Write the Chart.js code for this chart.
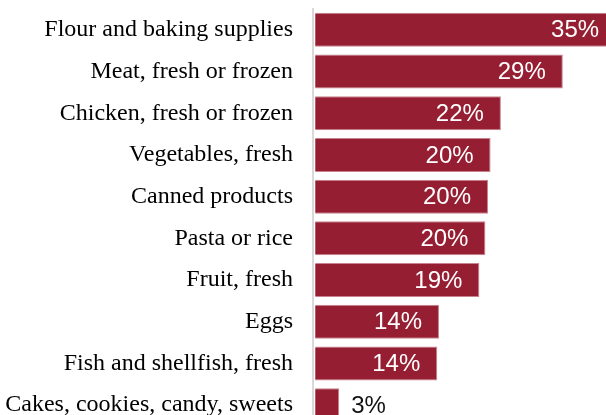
<!DOCTYPE html>
<html>
<head>
<meta charset="utf-8">
<script src="https://cdn.jsdelivr.net/npm/chart.js@4/dist/chart.umd.min.js"></script>
<style>
  html, body { margin: 0; padding: 0; background: #fff; }
  #wrap { width: 606px; height: 415px; overflow: hidden; position: relative; }
  #box { width: 623px; height: 426px; position: absolute; left: 0; top: 0; }
</style>
</head>
<body>
<div id="wrap"><div id="box"><canvas id="c"></canvas></div></div>
<script>
const categories = [
  "Flour and baking supplies",
  "Meat, fresh or frozen",
  "Chicken, fresh or frozen",
  "Vegetables, fresh",
  "Canned products",
  "Pasta or rice",
  "Fruit, fresh",
  "Eggs",
  "Fish and shellfish, fresh",
  "Cakes, cookies, candy, sweets"
];
const shares = [35, 28.8, 21.6, 20.4, 20.1, 19.8, 19.1, 14.4, 14.2, 2.8];

const barLabels = {
  id: 'barLabels',
  afterDatasetsDraw(chart) {
    const ctx = chart.ctx;
    const meta = chart.getDatasetMeta(0);
    ctx.save();
    ctx.font = '24px "Liberation Sans", Arial, sans-serif';
    ctx.textBaseline = 'middle';
    meta.data.forEach((bar, i) => {
      const v = shares[i];
      const txt = Math.round(v) + '%';
      if (v > 5) {
        ctx.fillStyle = '#ffffff';
        ctx.textAlign = 'right';
        ctx.fillText(txt, bar.x - 17, bar.y + 1);
      } else {
        ctx.fillStyle = '#111111';
        ctx.textAlign = 'left';
        ctx.fillText(txt, bar.x + 12, bar.y + 1);
      }
    });
    ctx.restore();
  }
};

new Chart(document.getElementById('c'), {
  type: 'bar',
  data: {
    labels: categories,
    datasets: [{
      data: shares,
      backgroundColor: '#961e32',
      borderColor: '#c8838e',
      borderWidth: 1,
      borderSkipped: 'left',
      categoryPercentage: 1,
      barPercentage: 0.815
    }]
  },
  options: {
    indexAxis: 'y',
    responsive: true,
    maintainAspectRatio: false,
    animation: false,
    layout: { padding: { top: 9, bottom: 0, left: 0, right: 0 } },
    plugins: { legend: { display: false }, tooltip: { enabled: false } },
    scales: {
      x: { display: false, min: -0.25, max: 35.8 },
      y: {
        afterFit(scale) { scale.width = 313; scale.paddingTop = 0; scale.paddingBottom = 0; },
        grid: { display: false, drawTicks: false },
        border: { display: true, color: '#d9d9d9', width: 2 },
        ticks: {
          color: '#000000',
          padding: 20,
          font: { family: '"Liberation Serif", "Times New Roman", serif', size: 24 }
        }
      }
    }
  },
  plugins: [barLabels]
});
</script>
</body>
</html>
